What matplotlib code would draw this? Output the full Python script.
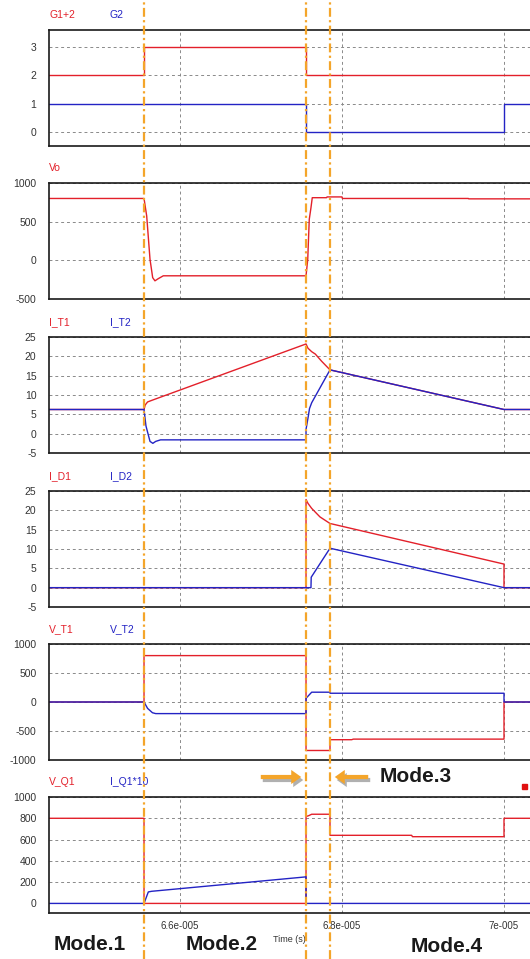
import numpy as np
import matplotlib.pyplot as plt
from matplotlib.lines import Line2D
from matplotlib.patches import FancyArrowPatch, Rectangle
from matplotlib.transforms import blended_transform_factory

plt.rcParams['font.family'] = ['Liberation Sans', 'DejaVu Sans']
plt.rcParams['axes.unicode_minus'] = False

RED = '#e3202a'
BLUE = '#2323c4'
ORANGE = '#f4a52a'
W, H = 530, 959

# switching instants and window (microseconds)
t_start, t_end = 64.383, 70.321
t1, t2, t3, t4 = 65.556, 67.556, 67.852, 70.0

# gate signals
g12_t = [t_start, t1, t1, t2, t2, t_end]
g12_v = [2, 2, 3, 3, 2, 2]
g2_t = [t_start, t2, t2, t4, t4, t_end]
g2_v = [1, 1, 0, 0, 1, 1]

# output voltage
vo_t = [t_start, t1, 65.589, 65.630, 65.663, 65.691, 65.732, 65.794, t2,
        67.577, 67.596, 67.617, 67.633, 67.81, 67.815, 68.0, 68.005, 69.56, 69.565, t_end]
vo_v = [800, 800, 574, 13, -224, -265, -237, -200, -200,
        10, 530, 680, 810, 810, 820, 820, 800, 800, 795, 795]

# transformer currents
it1_t = [t_start, t1, 65.57, 65.60, 65.65, t2, 67.58, 67.626, 67.67, 67.75, t3, t4, t_end]
it1_v = [6.25, 6.25, 7.4, 8.2, 8.6, 23.2, 22.1, 21.2, 20.6, 18.7, 16.5, 6.25, 6.25]
it2_t = [t_start, t1, 65.58, 65.63, 65.665, 65.70, 65.76, t2, t2, 67.584, 67.599, 67.626, t3, t4, t_end]
it2_v = [6.25, 6.25, 2.0, -2.0, -2.5, -2.0, -1.6, -1.6, 1.1, 4.5, 6.5, 8.0, 16.5, 6.25, 6.25]

# diode currents
id1_t = [t_start, t2, t2, 67.58, 67.626, 67.728, t3, t4, t4, t_end]
id1_v = [0, 0, 22.8, 21.8, 20.5, 18.3, 16.6, 6.1, 0, 0]
id2_t = [t_start, 67.617, 67.62, t3, t4, t_end]
id2_v = [0, 0, 2.7, 10.2, 0, 0]

# transformer voltages
vt1_t = [t_start, t1, t1, t2, t2, t3, t3, 68.12, 68.14, t4, t4, t_end]
vt1_v = [0, 0, 800, 800, -836, -836, -650, -650, -640, -640, 0, 0]
vt2_t = [t_start, t1, 65.60, 65.66, 65.70, t2, t2, 67.626, t3, t3, t4, t4, t_end]
vt2_v = [0, 0, -110, -185, -200, -200, 64, 169, 169, 151, 151, 0, 0]

# switch voltage / current
vq1_t = [t_start, t1, t1, t2, t2, 67.59, 67.626, t3, t3, 68.86, 68.87, t4, t4, t_end]
vq1_v = [800, 800, 0, 0, 816, 825, 838, 838, 640, 640, 627, 627, 800, 800]
iq1_t = [t_start, t1, 65.609, 65.651, 67.535, t2, t2, t_end]
iq1_v = [0, 0, 108, 114, 248, 250, 0, 0]

panels = [
    ('G1+2', 'G2', [(g12_t, g12_v), (g2_t, g2_v)], (-0.48, 3.59), [0, 1, 2, 3]),
    ('Vo', None, [(vo_t, vo_v)], (-500, 1000), [-500, 0, 500, 1000]),
    ('I_T1', 'I_T2', [(it1_t, it1_v), (it2_t, it2_v)], (-5, 25), [-5, 0, 5, 10, 15, 20, 25]),
    ('I_D1', 'I_D2', [(id1_t, id1_v), (id2_t, id2_v)], (-5, 25), [-5, 0, 5, 10, 15, 20, 25]),
    ('V_T1', 'V_T2', [(vt1_t, vt1_v), (vt2_t, vt2_v)], (-1000, 1000), [-1000, -500, 0, 500, 1000]),
    ('V_Q1', 'I_Q1*10', [(vq1_t, vq1_v), (iq1_t, iq1_v)], (-90, 1000), [0, 200, 400, 600, 800, 1000]),
]
tops = [30, 183, 337, 491, 644, 797]
ph = 116
left = 49

xticks = [66.0, 68.0, 70.0]
xtick_labels = ['6.6e-005', '6.8e-005', '7e-005']

fig = plt.figure(figsize=(W / 100, H / 100), dpi=100)
axes = []
for i, (lab1, lab2, series, ylim, yticks) in enumerate(panels):
    ax = fig.add_axes([left / W, 1 - (tops[i] + ph) / H, 1 - left / W, ph / H])
    for j, (t, v) in enumerate(series):
        ax.plot(np.array(t) * 1e-6, v, color=RED if j == 0 else BLUE, lw=1.0)
    ax.set_xlim(t_start * 1e-6, t_end * 1e-6)
    ax.set_ylim(*ylim)
    ax.set_yticks(yticks)
    ax.set_xticks(np.array(xticks) * 1e-6)
    ax.grid(True, color='#8a8a8a', ls=(0, (3, 3)), lw=0.7)
    for s in ['top', 'bottom', 'left']:
        ax.spines[s].set_linewidth(1.2)
        ax.spines[s].set_color('#1a1a1a')
    ax.spines['right'].set_visible(False)
    ax.tick_params(length=0, pad=9, labelsize=7.5, labelcolor='#333333')
    if i < 5:
        ax.tick_params(labelbottom=False)
    else:
        ax.set_xticklabels(xtick_labels)
        ax.tick_params(axis='x', pad=6, labelsize=7)
        ax.set_xlabel('Time (s)', fontsize=6.5, color='#333333', labelpad=3)
    fig.text(left / W, 1 - (tops[i] - 15) / H, lab1, color=RED, fontsize=7.5, va='center')
    if lab2:
        fig.text(110 / W, 1 - (tops[i] - 15) / H, lab2, color=BLUE, fontsize=7.5, va='center')
    axes.append(ax)

# mode boundaries over the whole figure
trans = blended_transform_factory(axes[-1].transData, fig.transFigure)
for t in [t1, t2, t3]:
    fig.add_artist(Line2D([t * 1e-6, t * 1e-6], [0, 1], transform=trans, color=ORANGE,
                          lw=1.6, dashes=[4, 1.5, 1, 1.5], zorder=5))

# mode names
for name, x, y in [('Mode.1', 90, 945), ('Mode.2', 222, 945), ('Mode.4', 447, 946), ('Mode.3', 416, 776)]:
    fig.text(x / W, 1 - y / H, name, fontsize=15, fontweight='bold', color='#1a1a1a',
             ha='center', va='center')

# arrows marking mode 3
for x0, x1 in [(258, 304), (371, 332)]:
    for dx, dy, col in [(2, 3, '#b0b0b0'), (0, 0, ORANGE)]:
        arr = FancyArrowPatch(((x0 + dx) / W, 1 - (777 + dy) / H), ((x1 + dx) / W, 1 - (777 + dy) / H),
                              transform=fig.transFigure,
                              arrowstyle='simple,tail_width=0.25,head_width=0.85,head_length=0.6',
                              mutation_scale=12, color=col, lw=0, zorder=6)
        fig.add_artist(arr)

fig.add_artist(Rectangle((522 / W, 1 - 789 / H), 5 / W, 5 / H, transform=fig.transFigure,
                         color='#e01010', zorder=6))

fig.savefig('out.png', dpi=100)
